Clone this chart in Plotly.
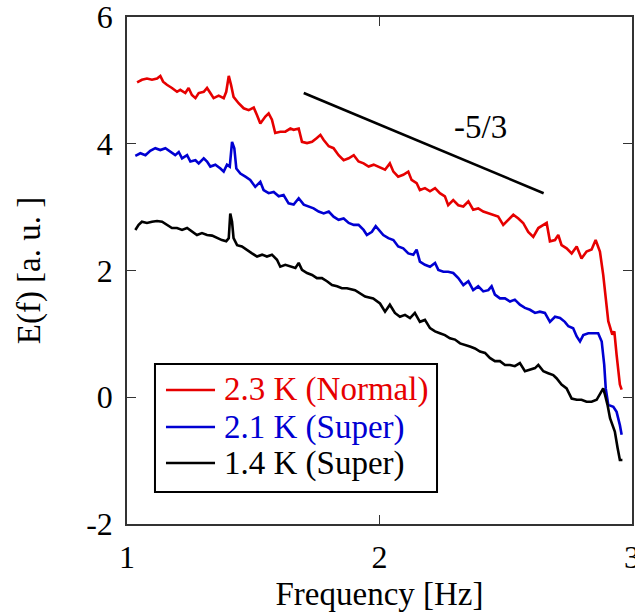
import plotly.graph_objects as go

# ---- data ----
red_x = [1.040, 1.059, 1.079, 1.099, 1.119, 1.132, 1.143, 1.158, 1.178, 1.198, 1.211, 1.231, 1.244,
         1.257, 1.271, 1.284, 1.304, 1.317, 1.330, 1.343, 1.363, 1.383, 1.393, 1.403, 1.412, 1.422,
         1.442, 1.462, 1.482, 1.502, 1.515, 1.528, 1.548, 1.561, 1.574, 1.587, 1.607, 1.627, 1.647,
         1.660, 1.680, 1.693, 1.713, 1.733, 1.752, 1.766, 1.779, 1.799, 1.818, 1.838, 1.858, 1.878,
         1.898, 1.917, 1.937, 1.957, 1.977, 1.990, 2.002, 2.022, 2.041, 2.055, 2.074, 2.094, 2.114,
         2.127, 2.147, 2.160, 2.180, 2.200, 2.220, 2.239, 2.259, 2.272, 2.292, 2.312, 2.332, 2.352,
         2.371, 2.391, 2.411, 2.431, 2.451, 2.470, 2.490, 2.510, 2.530, 2.550, 2.569, 2.589, 2.609,
         2.629, 2.649, 2.662, 2.675, 2.695, 2.708, 2.721, 2.741, 2.761, 2.781, 2.800, 2.820, 2.840,
         2.856, 2.873, 2.886, 2.896, 2.906, 2.922, 2.930, 2.939, 2.952, 2.959]
red_y = [4.97, 5.01, 5.03, 5.01, 5.03, 5.07, 4.98, 4.93, 4.88, 4.82, 4.85, 4.80, 4.88,
         4.77, 4.72, 4.80, 4.82, 4.88, 4.80, 4.72, 4.76, 4.72, 4.82, 5.07, 4.93, 4.74,
         4.64, 4.56, 4.53, 4.57, 4.45, 4.32, 4.43, 4.48, 4.38, 4.17, 4.19, 4.19, 4.24,
         4.22, 4.24, 4.03, 4.01, 4.03, 4.09, 4.14, 4.06, 3.96, 3.93, 3.82, 3.74, 3.77,
         3.82, 3.72, 3.69, 3.64, 3.67, 3.65, 3.62, 3.59, 3.69, 3.56, 3.48, 3.51, 3.56,
         3.43, 3.38, 3.27, 3.30, 3.25, 3.30, 3.22, 3.17, 3.03, 3.11, 3.03, 3.01, 3.09,
         2.96, 2.98, 2.93, 2.90, 2.88, 2.85, 2.72, 2.80, 2.88, 2.82, 2.75, 2.61, 2.53,
         2.67, 2.72, 2.75, 2.46, 2.48, 2.56, 2.40, 2.35, 2.27, 2.38, 2.19, 2.30, 2.33,
         2.48, 2.30, 1.93, 1.51, 1.20, 0.99, 1.04, 0.67, 0.20, 0.12]

blue_x = [1.033, 1.053, 1.073, 1.092, 1.112, 1.132, 1.152, 1.172, 1.191, 1.205, 1.218, 1.238, 1.251,
          1.271, 1.284, 1.304, 1.317, 1.330, 1.350, 1.370, 1.383, 1.396, 1.407, 1.416, 1.425, 1.433,
          1.449, 1.469, 1.488, 1.508, 1.528, 1.541, 1.561, 1.581, 1.601, 1.620, 1.640, 1.660, 1.680,
          1.700, 1.719, 1.739, 1.759, 1.779, 1.799, 1.818, 1.838, 1.858, 1.878, 1.898, 1.917, 1.937,
          1.950, 1.970, 1.985, 2.002, 2.015, 2.035, 2.055, 2.074, 2.094, 2.114, 2.134, 2.147, 2.160,
          2.180, 2.200, 2.220, 2.233, 2.253, 2.272, 2.292, 2.312, 2.332, 2.352, 2.371, 2.391, 2.411,
          2.431, 2.444, 2.457, 2.477, 2.497, 2.517, 2.536, 2.556, 2.576, 2.596, 2.616, 2.635, 2.655,
          2.675, 2.695, 2.715, 2.734, 2.748, 2.767, 2.781, 2.794, 2.807, 2.827, 2.847, 2.866, 2.880,
          2.890, 2.896, 2.906, 2.926, 2.939, 2.952, 2.959]
blue_y = [3.81, 3.85, 3.82, 3.89, 3.93, 3.90, 3.93, 3.87, 3.82, 3.87, 3.77, 3.82, 3.72,
          3.74, 3.69, 3.77, 3.72, 3.64, 3.67, 3.61, 3.56, 3.67, 3.64, 4.03, 3.93, 3.61,
          3.53, 3.48, 3.43, 3.32, 3.40, 3.27, 3.22, 3.24, 3.17, 3.19, 3.06, 3.04, 3.14,
          3.04, 3.01, 2.98, 2.93, 2.90, 2.93, 2.85, 2.80, 2.82, 2.75, 2.72, 2.72, 2.64,
          2.56, 2.61, 2.70, 2.61, 2.56, 2.51, 2.48, 2.38, 2.35, 2.27, 2.25, 2.33, 2.14,
          2.09, 2.06, 2.12, 2.01, 1.98, 1.98, 1.96, 1.88, 1.77, 1.83, 1.69, 1.75, 1.67,
          1.69, 1.75, 1.62, 1.56, 1.56, 1.51, 1.54, 1.46, 1.41, 1.38, 1.33, 1.35, 1.33,
          1.19, 1.27, 1.25, 1.19, 1.12, 1.09, 0.96, 0.88, 0.98, 1.01, 1.01, 1.01, 0.88,
          0.51, 0.14, -0.12, -0.15, -0.23, -0.44, -0.59]

black_x = [1.033, 1.046, 1.059, 1.079, 1.099, 1.119, 1.139, 1.158, 1.178, 1.198, 1.218, 1.238, 1.257,
           1.277, 1.297, 1.317, 1.337, 1.356, 1.376, 1.393, 1.403, 1.409, 1.416, 1.422, 1.436, 1.455,
           1.475, 1.495, 1.515, 1.535, 1.554, 1.574, 1.594, 1.607, 1.627, 1.647, 1.667, 1.680, 1.693,
           1.713, 1.733, 1.752, 1.772, 1.792, 1.812, 1.832, 1.851, 1.871, 1.903, 1.943, 1.975, 2.002,
           2.022, 2.041, 2.061, 2.081, 2.101, 2.121, 2.140, 2.160, 2.180, 2.200, 2.220, 2.239, 2.259,
           2.279, 2.299, 2.319, 2.338, 2.358, 2.378, 2.398, 2.418, 2.437, 2.457, 2.477, 2.497, 2.517,
           2.536, 2.556, 2.576, 2.596, 2.616, 2.629, 2.649, 2.668, 2.688, 2.701, 2.721, 2.741, 2.761,
           2.781, 2.800, 2.820, 2.840, 2.860, 2.873, 2.886, 2.893, 2.903, 2.913, 2.926, 2.932, 2.943,
           2.952, 2.962]
black_y = [2.64, 2.72, 2.77, 2.75, 2.77, 2.78, 2.77, 2.72, 2.67, 2.67, 2.64, 2.67, 2.61,
           2.56, 2.59, 2.56, 2.55, 2.51, 2.48, 2.46, 2.51, 2.90, 2.77, 2.51, 2.40, 2.38,
           2.32, 2.27, 2.22, 2.25, 2.22, 2.25, 2.17, 2.06, 2.09, 2.06, 2.04, 2.12, 2.01,
           1.96, 1.93, 1.88, 1.88, 1.83, 1.77, 1.75, 1.72, 1.72, 1.69, 1.59, 1.56, 1.48,
           1.35, 1.46, 1.33, 1.27, 1.30, 1.25, 1.33, 1.19, 1.22, 1.09, 1.04, 1.01, 0.98,
           0.93, 0.91, 0.85, 0.83, 0.80, 0.77, 0.72, 0.70, 0.62, 0.57, 0.57, 0.51, 0.51,
           0.49, 0.54, 0.41, 0.43, 0.46, 0.51, 0.41, 0.38, 0.35, 0.30, 0.20, 0.14, -0.02,
           -0.04, -0.04, -0.07, -0.07, -0.04, 0.06, 0.14, 0.04, -0.12, -0.33, -0.46, -0.54, -0.80,
           -0.99, -0.99]

slope_x = [1.70, 2.65]
slope_y = [4.80, 3.22]
slope_label = "-5/3"

series_names = ["2.3 K (Normal)", "2.1 K (Super)", "1.4 K (Super)"]
series_colors = ["rgb(230,0,0)", "rgb(0,0,210)", "black"]

x_ticks = [1, 2, 3]
x_ticklabels = ["1", "2", "3"]
y_ticks = [-2, 0, 2, 4, 6]
y_ticklabels = ["-2", "0", "2", "4", "6"]

FONT = "Liberation Serif"

fig = go.Figure()
for xs, ys, name, col in zip([red_x, blue_x, black_x], [red_y, blue_y, black_y],
                             series_names, series_colors):
    fig.add_trace(go.Scatter(x=xs, y=ys, mode="lines", name=name, showlegend=False,
                             line=dict(color=col, width=2.6)))

fig.add_trace(go.Scatter(x=slope_x, y=slope_y, mode="lines", showlegend=False,
                         line=dict(color="black", width=2.6)))

fig.add_annotation(x=2.40, y=4.27, text=slope_label, showarrow=False,
                   font=dict(family=FONT, size=33, color="black"))

# ---- legend box (drawn in paper coordinates, styled like the original) ----
LEG_X0, LEG_X1, LEG_Y0, LEG_Y1 = 0.0554, 0.6139, 0.0631, 0.3156
LEG_LINE_X0, LEG_LINE_X1, LEG_TEXT_X = 0.0772, 0.1743, 0.1881
LEG_ROW_Y = [0.2643, 0.1913, 0.1203]
fig.add_shape(type="rect", xref="paper", yref="paper", x0=LEG_X0, x1=LEG_X1, y0=LEG_Y0, y1=LEG_Y1,
              line=dict(color="black", width=2), fillcolor="white", layer="above")
for name, col, ry in zip(series_names, series_colors, LEG_ROW_Y):
    fig.add_shape(type="line", xref="paper", yref="paper", x0=LEG_LINE_X0, x1=LEG_LINE_X1,
                  y0=ry, y1=ry, line=dict(color=col, width=2.6), layer="above")
    fig.add_annotation(xref="paper", yref="paper", x=LEG_TEXT_X, y=ry, text=name,
                       showarrow=False, xanchor="left", yanchor="middle",
                       font=dict(family=FONT, size=33, color=col))

axis_common = dict(showline=True, linecolor="#333", linewidth=1.5, mirror="ticks",
                   ticks="inside", ticklen=9, tickwidth=1.2, tickcolor="#333",
                   showgrid=False, zeroline=False, automargin=False,
                   ticklabeloverflow="allow",
                   tickfont=dict(family=FONT, size=32, color="black"))

fig.update_xaxes(range=[1, 3], tickvals=x_ticks, ticktext=x_ticklabels,
                 title=dict(text="Frequency [Hz]", font=dict(family=FONT, size=33, color="black"),
                            standoff=8),
                 ticklabelstandoff=4, **axis_common)
fig.update_yaxes(range=[-2, 6], tickvals=y_ticks, ticktext=y_ticklabels,
                 title=dict(text="E(f) [a. u. ]", font=dict(family=FONT, size=33, color="black"),
                            standoff=36),
                 ticklabelstandoff=6, **axis_common)

fig.update_layout(
    width=635, height=614,
    margin=dict(l=127, r=3, t=17, b=90, autoexpand=False),
    plot_bgcolor="white", paper_bgcolor="white",
    font=dict(family=FONT, size=32, color="black"),
    showlegend=False,
)

fig.write_html("out.html", config={"displayModeBar": False},
               post_script="document.body.style.margin='0';")
